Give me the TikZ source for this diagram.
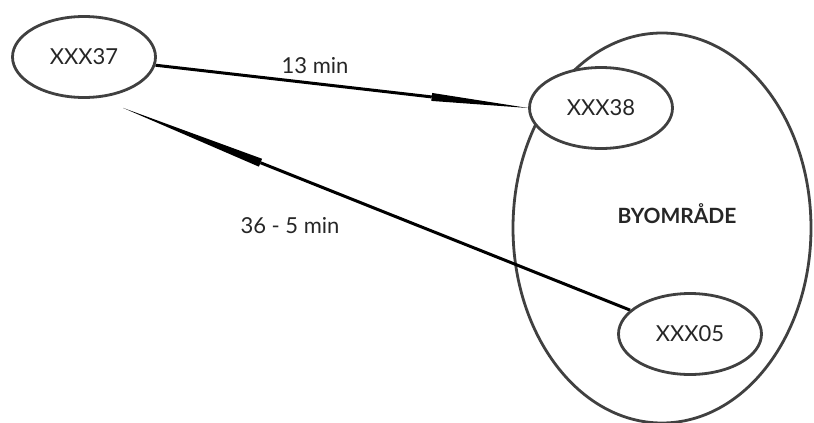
\documentclass[tikz,border=0pt]{standalone}
\usepackage{fontspec}
\setmainfont{Lato}
\usetikzlibrary{arrows.meta,shapes.geometric,backgrounds}

\def\fs{22}

\begin{document}
\begin{tikzpicture}
[x=1pt,y=-1pt,
every node/.style={
  font=\fontsize{\fs}{26}\selectfont, text=black!85
},
stop/.style={
  ellipse, draw=black!75, line width=2.8pt, fill=white,
  minimum width=143pt, minimum height=81pt, inner sep=0pt
},
area/.style={
  ellipse, draw=black!75, line width=2.8pt,
  minimum width=298pt, minimum height=390pt
},
route/.style={
  line width=3pt, draw=black
},
timelabel/.style={
  inner sep=0pt
},
arealabel/.style={
  font=\fontsize{21}{25}\selectfont\bfseries
}
]
\useasboundingbox (0,0) rectangle (814,423);

% Stops
\node[stop] (n37) at (84,57) {XXX37};
\node[stop] (n38) at (601,108) {XXX38};
\node[stop] (n05) at (690,334) {XXX05};
\coordinate (tip37) at ([shift={(39,9)}]n37.south);

% Byomraade and routes, behind the stops
\begin{pgfonlayer}{background}
\node[area] (byomrade) at (662,228) {};
\draw[route,-{Triangle[length=97pt,width=8pt,line width=0pt]}] (n37) -- (n38.west);
\draw[route,-{Triangle[length=148pt,width=8.5pt,line width=0pt]}] (n05) -- (tip37);
\end{pgfonlayer}
\node[arealabel] (byolabel) at (677,214) {BYOMRÅDE};

% Times
\node[timelabel] (t38) at (315,66) {13 min};
\node[timelabel] (t05) at (290,226) {36 - 5 min};

\end{tikzpicture}
\end{document}
